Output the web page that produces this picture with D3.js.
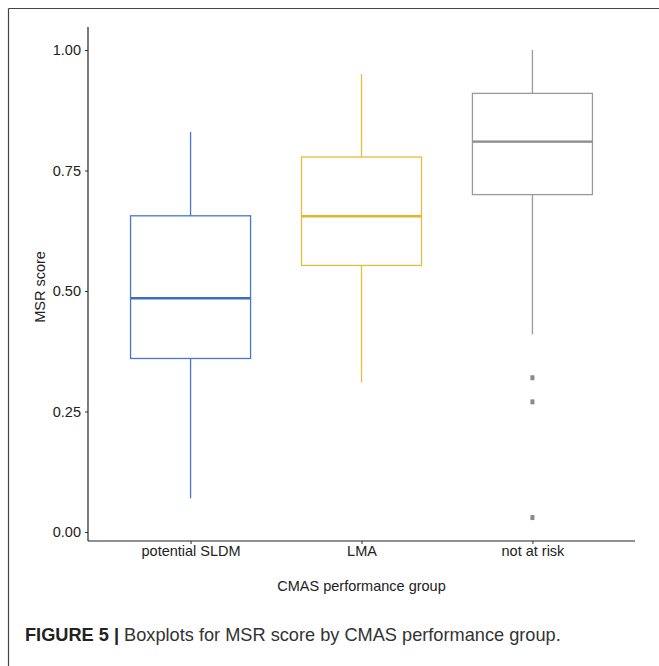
<!DOCTYPE html>
<html><head><meta charset="utf-8">
<script src="https://cdn.jsdelivr.net/npm/d3@7"></script>
<style>body{margin:0;background:#fff}svg{display:block}text{font-family:"Liberation Sans",Arial,sans-serif}</style>
</head><body>
<script>
const categories = ["potential SLDM", "LMA", "not at risk"];
const whiskerLow = [0.07, 0.31, 0.41];
const q1 = [0.36, 0.553, 0.70];
const median = [0.485, 0.655, 0.81];
const q3 = [0.656, 0.778, 0.91];
const whiskerHigh = [0.83, 0.95, 1.00];
const outliers = [[], [], [0.32, 0.27, 0.03]];
const colors = ["#4676d1", "#e8bc3c", "#9a9a9a"];
const medianColors = ["#3d6cc4", "#e3b42c", "#8a8a8a"];
const yTicks = [0, 0.25, 0.5, 0.75, 1.0];

(function () {
const W = 659, H = 666;
const svg = d3.select("body").append("svg").attr("width", W).attr("height", H);

// frame
svg.append("line").attr("x1", 8.5).attr("x2", W).attr("y1", 8.5).attr("y2", 8.5).attr("stroke", "#444").attr("stroke-width", 1.2);
svg.append("line").attr("x1", 8.5).attr("x2", 8.5).attr("y1", 8.5).attr("y2", H).attr("stroke", "#444").attr("stroke-width", 1.2);

const pLeft = 88, pRight = 635, pTop = 27, pBottom = 541;
const y = d3.scaleLinear().domain([0, 1]).range([532, 50]);
const x = d3.scaleLinear().domain([0.4, 3.6]).range([pLeft, pRight]);
const boxW = 120;
const fs = 14.5;

const g = svg.append("g");
// axes
const yAxis = g.append("g").attr("transform", `translate(${pLeft},0)`)
  .call(d3.axisLeft(y).tickValues(yTicks).tickFormat(d3.format(".2f")).tickSize(3).tickPadding(4));
yAxis.select(".domain").remove();
yAxis.selectAll("line").attr("stroke", "#333");
yAxis.selectAll("text").attr("font-size", fs).attr("fill", "#222");
g.append("line").attr("x1", pLeft).attr("x2", pLeft).attr("y1", pTop).attr("y2", pBottom).attr("stroke", "#222").attr("stroke-width", 1.2);

const xAxis = g.append("g").attr("transform", `translate(0,${pBottom})`)
  .call(d3.axisBottom(x).tickValues([1, 2, 3]).tickFormat((d) => categories[d - 1]).tickSize(3).tickPadding(2));
xAxis.select(".domain").remove();
xAxis.selectAll("line").attr("stroke", "#333");
xAxis.selectAll("text").attr("font-size", fs).attr("fill", "#222");
g.append("line").attr("x1", pLeft).attr("x2", pRight).attr("y1", pBottom).attr("y2", pBottom).attr("stroke", "#222").attr("stroke-width", 1.2);

// titles
svg.append("text").attr("transform", `translate(45,287) rotate(-90)`)
  .attr("text-anchor", "middle").attr("font-size", fs).attr("fill", "#222").text("MSR score");
svg.append("text").attr("x", x(2)).attr("y", 591).attr("text-anchor", "middle")
  .attr("font-size", fs).attr("fill", "#222").text("CMAS performance group");

// boxes
categories.forEach((c, i) => {
  const cx = x(i + 1);
  const gg = g.append("g");
  gg.append("line").attr("x1", cx).attr("x2", cx).attr("y1", y(q3[i])).attr("y2", y(whiskerHigh[i])).attr("stroke", colors[i]).attr("stroke-width", 1.3);
  gg.append("line").attr("x1", cx).attr("x2", cx).attr("y1", y(q1[i])).attr("y2", y(whiskerLow[i])).attr("stroke", colors[i]).attr("stroke-width", 1.3);
  gg.append("rect").attr("x", cx - boxW / 2).attr("y", y(q3[i])).attr("width", boxW).attr("height", y(q1[i]) - y(q3[i]))
    .attr("fill", "#fff").attr("stroke", colors[i]).attr("stroke-width", 1.3);
  gg.append("line").attr("x1", cx - boxW / 2).attr("x2", cx + boxW / 2).attr("y1", y(median[i])).attr("y2", y(median[i]))
    .attr("stroke", medianColors[i]).attr("stroke-width", 2.4);
  outliers[i].forEach((o) => {
    gg.append("rect").attr("x", cx - 2).attr("y", y(o) - 2.5).attr("width", 4).attr("height", 5).attr("fill", "#8a8a8a");
  });
});

// caption
const cap = svg.append("text").attr("x", 25).attr("y", 641).attr("font-size", 18.2).attr("fill", "#333");
cap.append("tspan").attr("font-weight", "bold").attr("fill", "#222").text("FIGURE 5 | ");
cap.append("tspan").text("Boxplots for MSR score by CMAS performance group.");
})();
</script>
</body></html>
